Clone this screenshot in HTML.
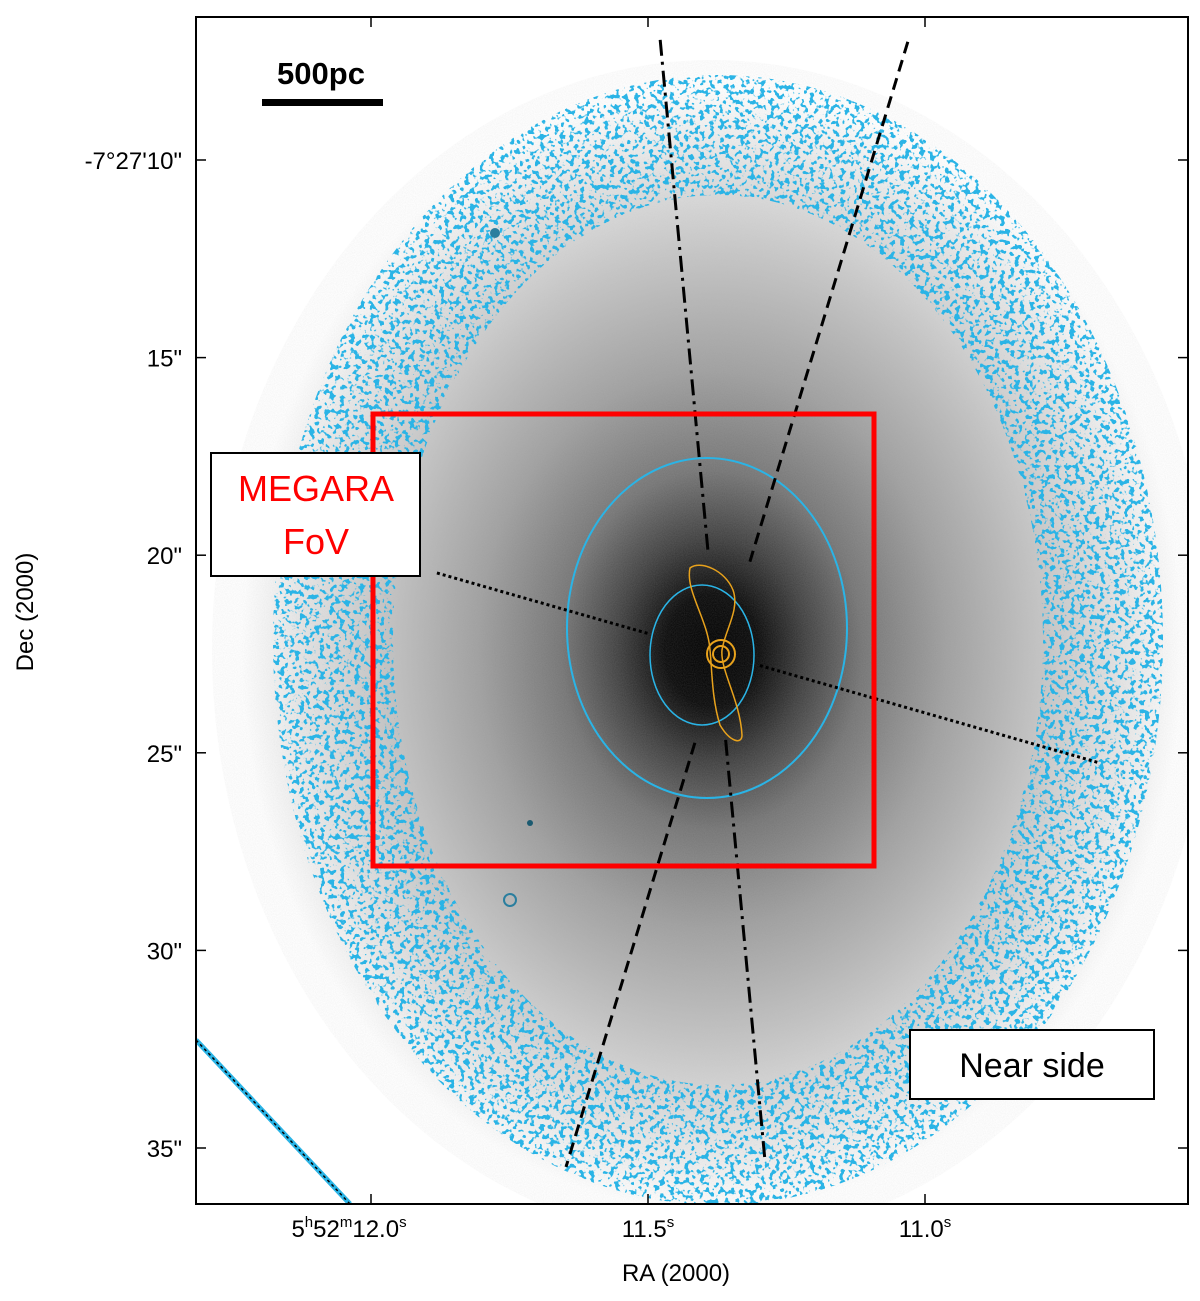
<!DOCTYPE html>
<html><head><meta charset="utf-8"><style>
html,body{margin:0;padding:0;background:#fff;}
svg{display:block;font-family:"Liberation Sans",sans-serif;}
</style></head><body>
<svg id="chart" width="1200" height="1301" viewBox="0 0 1200 1301">
<defs>
 <radialGradient id="halo" cx="712" cy="650" r="560" gradientUnits="userSpaceOnUse" gradientTransform="translate(712 650) scale(0.84 1) translate(-712 -650)">
  <stop offset="0" stop-color="#000"/>
  <stop offset="0.1" stop-color="#0a0a0a"/>
  <stop offset="0.2" stop-color="#404040"/>
  <stop offset="0.32" stop-color="#757575"/>
  <stop offset="0.5" stop-color="#a0a0a0"/>
  <stop offset="0.7" stop-color="#c4c4c4"/>
  <stop offset="0.88" stop-color="#e6e6e6"/>
  <stop offset="1" stop-color="#ffffff"/>
 </radialGradient>
 <filter id="speckle" x="-10%" y="-10%" width="120%" height="120%">
  <feTurbulence type="fractalNoise" baseFrequency="0.2" numOctaves="2" seed="3" result="n"/>
  <feColorMatrix in="n" type="matrix" values="0 0 0 0 0  0 0 0 0 0  0 0 0 0 0  0 0 0 14 -7.6" result="m"/>
  <feComposite in="SourceGraphic" in2="m" operator="in"/>
 </filter>
 <filter id="noise">
  <feTurbulence type="fractalNoise" baseFrequency="0.9" numOctaves="1" seed="5" result="n"/>
  <feColorMatrix in="n" type="matrix" values="0 0 0 0 0.5  0 0 0 0 0.5  0 0 0 0 0.5  0 0 0 0.35 -0.05"/>
  <feComposite in2="SourceGraphic" operator="in"/>
 </filter>
 <clipPath id="plotclip"><rect x="196" y="17" width="992" height="1187"/></clipPath>
</defs>
<g clip-path="url(#plotclip)">
 <rect x="196" y="17" width="992" height="1187" fill="#fff"/>
 <ellipse cx="712" cy="650" rx="500" ry="590" fill="url(#halo)"/>
 <ellipse cx="712" cy="650" rx="500" ry="590" fill="#fff" filter="url(#noise)" opacity="0.6"/>
 <ellipse cx="718" cy="640" rx="385" ry="505" fill="none" stroke="#2ab4e6" stroke-width="120" filter="url(#speckle)"/>
 <ellipse cx="707" cy="628" rx="140" ry="170" fill="none" stroke="#2ab4e6" stroke-width="2"/>
 <ellipse cx="702" cy="655" rx="52" ry="70" fill="none" stroke="#2ab4e6" stroke-width="1.5"/>
 <path d="M690,568 C700,560 725,570 733,590 C740,610 725,630 722,650 C720,670 740,700 742,735 C742,745 730,742 720,725 C712,700 712,670 710,650 C708,620 685,590 690,568 Z" fill="none" stroke="#e8a21c" stroke-width="1.5"/>
 <circle cx="721" cy="654" r="14" fill="none" stroke="#e8a21c" stroke-width="2"/>
 <circle cx="721" cy="654" r="8" fill="none" stroke="#e8a21c" stroke-width="2"/>
 <circle cx="495" cy="233" r="5" fill="#2a7e9e"/>
 <circle cx="510" cy="900" r="6" fill="none" stroke="#2a7e9e" stroke-width="2"/>
 <circle cx="530" cy="823" r="3" fill="#1b5a70"/>
 <line x1="196" y1="1040" x2="350" y2="1204" stroke="#2ab4e6" stroke-width="5"/>
 <line x1="196" y1="1040" x2="350" y2="1204" stroke="#000" stroke-width="1.5" stroke-dasharray="3 3"/>
 <g id="axislines"></g>
 <rect x="373" y="414" width="501" height="452" fill="none" stroke="#ff0000" stroke-width="5"/>
 <rect x="211" y="453" width="209" height="123" fill="#fff" stroke="#000" stroke-width="2"/>
 <text x="316" y="501" font-size="36" fill="#ff0000" text-anchor="middle">MEGARA</text>
 <text x="316" y="554" font-size="36" fill="#ff0000" text-anchor="middle">FoV</text>
 <rect x="910" y="1030" width="244" height="69" fill="#fff" stroke="#000" stroke-width="2"/>
 <text x="1032" y="1077" font-size="34" fill="#000" text-anchor="middle">Near side</text>
 <text x="321" y="84" font-size="31" font-weight="bold" fill="#000" text-anchor="middle">500pc</text>
 <rect x="262" y="99" width="121" height="7" fill="#000"/>
</g>
<rect x="196" y="17" width="992" height="1187" fill="none" stroke="#000" stroke-width="2"/>
<g id="ticks"></g>
<text x="33" y="612" font-size="24" text-anchor="middle" transform="rotate(-90 33 612)">Dec (2000)</text>
<text x="676" y="1281" font-size="24" text-anchor="middle">RA (2000)</text>
<script>
const decLabels = ["-7°27'10\"", "15\"", "20\"", "25\"", "30\"", "35\""];
const decValues = [10, 15, 20, 25, 30, 35];
const raLabels = ["12.0", "11.5", "11.0"];
const raValues = [12.0, 11.5, 11.0];
const lineNames = ["dash-dot-axis", "dashed-axis", "dotted-axis"];
// [dec, ra]
const lineStarts = [[6.96, 11.478], [7.01, 11.031], [20.45, 11.881]];
const lineEnds = [[35.3, 11.289], [35.48, 11.648], [25.26, 10.684]];
const lineGaps = [[0.458, 0.625], [0.462, 0.623], [0.32, 0.487]];
const NS="http://www.w3.org/2000/svg";
function yS(d){return 160 + (d-10)*(1148-160)/25;}
function xS(r){return 371 + (12.0-r)*(925-371)/1.0;}
function addT(parent, txt, size, dy){
  const s=document.createElementNS(NS,'tspan');
  if(size) s.setAttribute('font-size',size);
  if(dy) s.setAttribute('dy',dy);
  s.textContent=txt; parent.appendChild(s);
}
const tg=document.getElementById('ticks');
decValues.forEach((d,i)=>{
  const y=yS(d);
  [[196,206],[1178,1188]].forEach(p=>{
    const l=document.createElementNS(NS,'line');
    l.setAttribute('x1',p[0]);l.setAttribute('x2',p[1]);l.setAttribute('y1',y);l.setAttribute('y2',y);
    l.setAttribute('stroke','#000');l.setAttribute('stroke-width','1.5');
    
    
    tg.appendChild(l);
  });
  const t=document.createElementNS(NS,'text');
  t.setAttribute('x',182);t.setAttribute('y',y+9);t.setAttribute('font-size','24');t.setAttribute('text-anchor','end');
  t.textContent=decLabels[i];
  
  
  tg.appendChild(t);
});
raValues.forEach((r,i)=>{
  const x=xS(r);
  [[1194,1204],[17,27]].forEach(p=>{
    const l=document.createElementNS(NS,'line');
    l.setAttribute('x1',x);l.setAttribute('x2',x);l.setAttribute('y1',p[0]);l.setAttribute('y2',p[1]);
    l.setAttribute('stroke','#000');l.setAttribute('stroke-width','1.5');
    
    
    tg.appendChild(l);
  });
  const t=document.createElementNS(NS,'text');
  t.setAttribute('x',x);t.setAttribute('y',1237);t.setAttribute('font-size','24');t.setAttribute('text-anchor','middle');
  if(i===0){
    addT(t,'5');addT(t,'h','15','-10');addT(t,'52','','10');addT(t,'m','15','-10');addT(t,raLabels[i],'','10');addT(t,'s','15','-10');
    t.setAttribute('x',x-22);
  } else {
    addT(t,raLabels[i]);addT(t,'s','15','-10');
  }
  
  
  tg.appendChild(t);
});
const styles=[["16 6 3 6",3],["12 7",3],["3 3",3]];
const lg=document.getElementById('axislines');
lineNames.forEach((n,i)=>{
  const x1=xS(lineStarts[i][1]), y1=yS(lineStarts[i][0]);
  const x2=xS(lineEnds[i][1]), y2=yS(lineEnds[i][0]);
  const segs=[[0,lineGaps[i][0]],[lineGaps[i][1],1]];
  segs.forEach(sg=>{
    const l=document.createElementNS(NS,'line');
    l.setAttribute('x1',x1+(x2-x1)*sg[0]);l.setAttribute('y1',y1+(y2-y1)*sg[0]);
    l.setAttribute('x2',x1+(x2-x1)*sg[1]);l.setAttribute('y2',y1+(y2-y1)*sg[1]);
    l.setAttribute('stroke','#000');l.setAttribute('stroke-width',styles[i][1]);l.setAttribute('stroke-dasharray',styles[i][0]);
    
    
    lg.appendChild(l);
  });
});
</script>
</svg>
</body></html>
